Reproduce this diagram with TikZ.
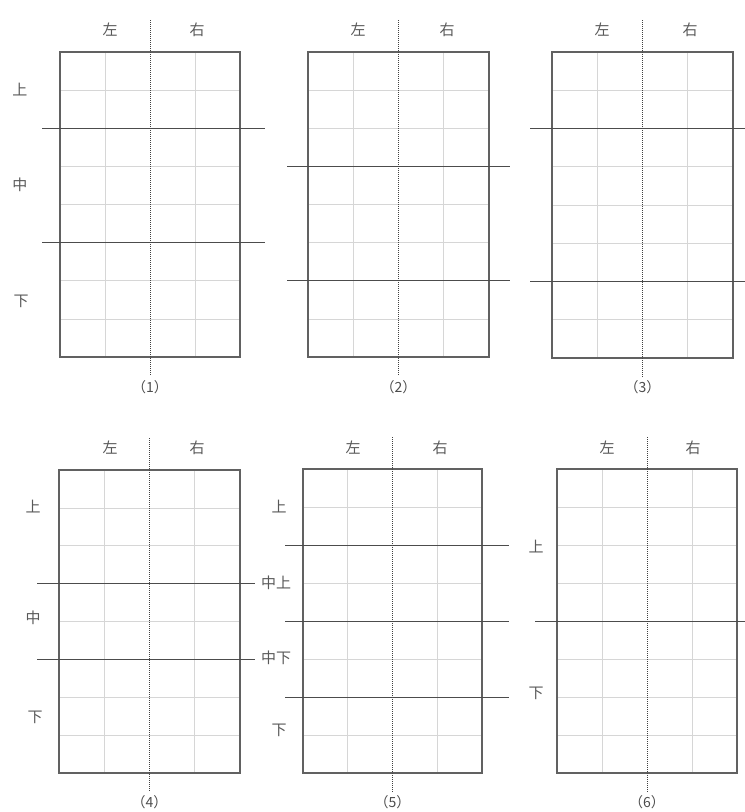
\documentclass[tikz,border=0pt]{standalone}
\usepackage{fontspec}
\setmainfont{Noto Sans CJK SC}
\tikzset{
 box/.style={draw=black!62, line width=1.2pt},
 faint/.style={draw=black!16, line width=0.6pt},
 divline/.style={draw=black!70, line width=1pt},
 axisline/.style={draw=black!75, line width=0.9pt, dash pattern=on 1pt off 1pt},
 lab/.style={text=black!65, font=\fontsize{15}{17}\selectfont, inner sep=0pt},
 captext/.style={text=black!70, font=\fontsize{14}{16}\selectfont, inner sep=0pt},
}
% #1 left #2 top #3 right #4 bottom #5 divider rows #6 div x start #7 div x end
\newcommand\mypanel[7]{%
 \pgfmathsetmacro\pw{#3-#1}%
 \pgfmathsetmacro\ph{#4-#2}%
 \foreach \i in {1,...,7} \draw[faint] (#1,{#2+\i*\ph/8}) -- (#3,{#2+\i*\ph/8});
 \foreach \i in {1,3} \draw[faint] ({#1+\i*\pw/4},#2) -- ({#1+\i*\pw/4},#4);
 \draw[box] (#1,#2) rectangle (#3,#4);
 \foreach \r in {#5} \draw[divline] (#6,{#2+\r*\ph/8}) -- (#7,{#2+\r*\ph/8});
 \draw[axisline] ({(#1+#3)/2},{#2-32}) -- ({(#1+#3)/2},{#4+19});
}
\begin{document}
\begin{tikzpicture}[x=1pt,y=-1pt]
\useasboundingbox (0,0) rectangle (745,812);
% panel 1
\mypanel{60}{52}{240}{357}{2,5}{42}{265}
\node[lab] (l1) at (110,30) {左};
\node[lab] (r1) at (197,30) {右};
\node[lab] (s1) at (20,90) {上};
\node[lab] (m1) at (20,185) {中};
\node[lab] (x1) at (21,301) {下};
\node[captext] (c1) at (150,387) {（1）};
% panel 2
\mypanel{308}{52}{489}{357}{3,6}{287}{510}
\node[lab] (l2) at (358,30) {左};
\node[lab] (r2) at (447,30) {右};
\node[captext] (c2) at (398.5,387) {（2）};
% panel 3
\mypanel{552}{52}{733}{358}{2,6}{530}{745}
\node[lab] (l3) at (602,30) {左};
\node[lab] (r3) at (690,30) {右};
\node[captext] (c3) at (642.5,387) {（3）};
% panel 4
\mypanel{59}{470}{240}{773}{3,5}{37}{255}
\node[lab] (l4) at (110,448) {左};
\node[lab] (r4) at (197,448) {右};
\node[lab] (s4) at (33,507) {上};
\node[lab] (m4) at (33,618) {中};
\node[lab] (x4) at (35,717) {下};
\node[captext] (c4) at (149.5,802) {（4）};
% panel 5
\mypanel{303}{469}{482}{773}{2,4,6}{285}{509}
\node[lab] (l5) at (353,448) {左};
\node[lab] (r5) at (440,448) {右};
\node[lab] (s5) at (279,507) {上};
\node[lab] (m5a) at (276,583) {中上};
\node[lab] (m5b) at (276,658) {中下};
\node[lab] (x5) at (279,730) {下};
\node[captext] (c5) at (392.5,802) {（5）};
% panel 6
\mypanel{557}{469}{737}{773}{4}{535}{745}
\node[lab] (l6) at (607,448) {左};
\node[lab] (r6) at (693,448) {右};
\node[lab] (s6) at (536,547) {上};
\node[lab] (x6) at (536,693) {下};
\node[captext] (c6) at (647,802) {（6）};
\end{tikzpicture}
\end{document}
